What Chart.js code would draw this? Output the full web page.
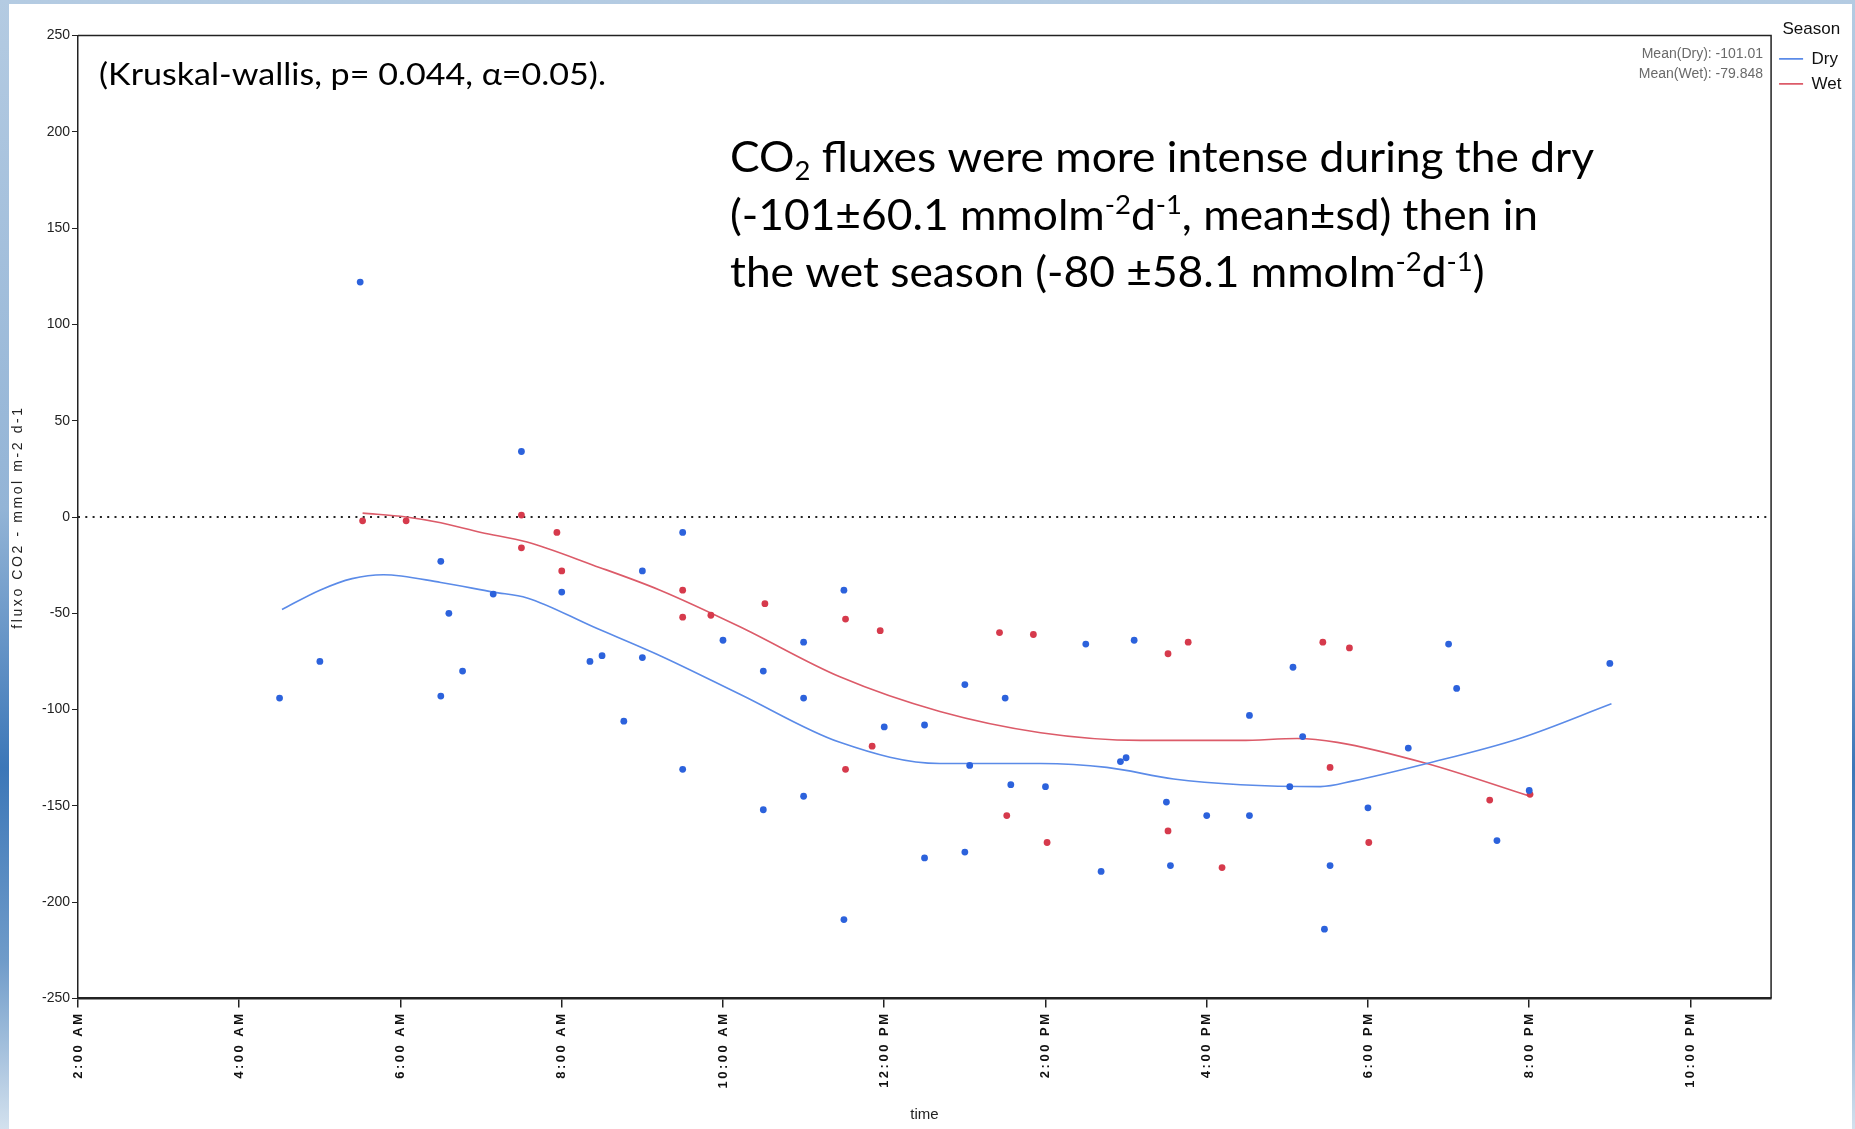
<!DOCTYPE html>
<html>
<head>
<meta charset="utf-8">
<script src="https://cdn.jsdelivr.net/npm/chart.js@4.4.1/dist/chart.umd.min.js"></script>
<style>
  html, body { margin: 0; padding: 0; width: 1855px; height: 1129px; overflow: hidden; }
  body { position: relative; background: linear-gradient(180deg, #b4cbe2 0%, #93b4d6 45%, #3c77b8 68%, #6f9bc9 85%, #d3e1ee 100%); }
  #sheet { position: absolute; left: 9px; top: 4px; right: 3px; bottom: 0; background: #fff; }
  #chart { position: absolute; left: 0; top: 0; }
</style>
</head>
<body>
<div id="sheet"></div>
<canvas id="chart" width="1855" height="1129"></canvas>
<script>
// sampling time (hours of day) and CO2 flux, one pair per sample
const dryHours = [4.5, 5.0, 5.5, 6.5, 6.6, 6.5, 6.77, 7.15, 7.5, 8.0, 8.35, 8.5, 8.77, 9.0, 9.0, 9.5, 9.5,
  10.0, 10.5, 10.5, 11.0, 11.0, 11.0, 11.5, 11.5, 12.0, 12.5, 12.5, 13.0, 13.0, 13.06, 13.5, 13.57,
  14.0, 14.5, 14.69, 14.93, 15.0, 15.1, 15.5, 15.55, 16.0, 16.53, 16.53, 17.03, 17.07, 17.19, 17.46,
  17.53, 18.0, 18.5, 19.0, 19.1, 19.6, 20.0, 21.0];
const dryValues = [-94, -75, 122, -23, -50, -93, -80, -40, 34, -39, -75, -72, -106, -28, -73, -8, -131,
  -64, -80, -152, -65, -94, -145, -38, -209, -109, -108, -177, -87, -174, -129, -94, -139,
  -140, -66, -184, -127, -125, -64, -148, -181, -155, -103, -155, -140, -78, -114, -214,
  -181, -151, -120, -66, -89, -168, -142, -76];

const wetHours = [5.53, 6.07, 7.5, 7.5, 7.94, 8.0, 9.5, 9.5, 9.85, 10.52, 11.52, 11.52, 11.85, 11.95,
  13.43, 13.52, 13.85, 14.02, 15.52, 15.52, 15.77, 16.19, 17.44, 17.53, 17.77, 18.01, 19.51, 20.01];
const wetValues = [-2, -2, 1, -16, -8, -28, -38, -52, -51, -45, -53, -131, -119, -59,
  -60, -155, -61, -169, -71, -163, -65, -182, -65, -130, -68, -169, -147, -144];

// smoothed trend lines
const dryTrendHours = [4.53, 5.0, 5.4, 5.79, 6.5, 7.15, 7.57, 8.39, 9.22, 10.21, 11.45, 12.69, 13.94,
  14.76, 15.59, 16.42, 17.41, 17.82, 18.73, 19.88, 21.02];
const dryTrendValues = [-48, -38, -32, -30, -34, -39, -42, -57, -72, -92, -117, -128, -128,
  -130, -136, -139, -140, -137, -128, -115, -97];
const wetTrendHours = [5.53, 6.07, 6.5, 7.0, 7.57, 8.39, 9.22, 10.21, 11.45, 12.69, 13.94, 15.18,
  16.42, 17.12, 17.62, 18.73, 20.01];
const wetTrendValues = [2, 0, -3, -8, -13, -25, -38, -57, -83, -101, -112, -116,
  -116, -115, -117, -128, -145];

const zeroHours = [2, 23];
const zeroValues = [0, 0];

const xTickHours = [2, 4, 6, 8, 10, 12, 14, 16, 18, 20, 22];
const xTickLabels = ['2:00 AM', '4:00 AM', '6:00 AM', '8:00 AM', '10:00 AM', '12:00 PM',
  '2:00 PM', '4:00 PM', '6:00 PM', '8:00 PM', '10:00 PM'];

const meanLines = ['Mean(Dry): -101.01', 'Mean(Wet): -79.848'];
const statLine = [['(Kruskal-wallis, p= 0.044, \u03b1=0.05).']];
const noteLines = [
  [['CO'], ['2', 'sub'], [' fluxes were more intense during the dry']],
  [['(-101\u00b160.1 mmolm'], ['-2', 'sup'], ['d'], ['-1', 'sup'], [', mean\u00b1sd) then in']],
  [['the wet season (-80 \u00b158.1 mmolm'], ['-2', 'sup'], ['d'], ['-1', 'sup'], [')']]
];

const dryPoint = '#2c62dc';
const wetPoint = '#d63a4c';
const dryLine = '#5b8be8';
const wetLine = '#dc5b69';
const narrow = '"Liberation Sans Narrow", "Arial Narrow", "Liberation Sans", sans-serif';
const noteFont = 'Lato, "Open Sans", sans-serif';

function pts(xs, ys) {
  return xs.map((x, i) => ({ x: x, y: ys[i] }));
}

function drawRich(ctx, segs, x, y, size, sx) {
  ctx.save();
  ctx.translate(x, y);
  ctx.scale(sx, 1);
  let cx = 0;
  segs.forEach(([t, kind]) => {
    const s = kind ? size * 0.62 : size;
    ctx.font = s + 'px ' + noteFont;
    const dy = kind === 'sub' ? size * 0.2 : kind === 'sup' ? -size * 0.36 : 0;
    ctx.fillText(t, cx, dy);
    cx += ctx.measureText(t).width;
  });
  ctx.restore();
}

function richWidth(ctx, segs, size) {
  let w = 0;
  segs.forEach(([t, kind]) => {
    ctx.font = (kind ? size * 0.62 : size) + 'px ' + noteFont;
    w += ctx.measureText(t).width;
  });
  return w;
}

// wider letter spacing on the x tick labels and the y title, like the original plot
const spacedText = {
  id: 'spacedText',
  afterLayout(chart) {
    const x = chart.scales.x, y = chart.scales.y;
    if (!x._spaced) {
      const orig = x.drawLabels;
      x.drawLabels = function (area) {
        this.ctx.save();
        this.ctx.letterSpacing = '2.5px';
        orig.call(this, area);
        this.ctx.restore();
      };
      x._spaced = true;
    }
    if (!y._spaced) {
      const origT = y.drawTitle;
      y.drawTitle = function () {
        this.ctx.save();
        this.ctx.letterSpacing = '2.6px';
        origT.call(this);
        this.ctx.restore();
      };
      y._spaced = true;
    }
  }
};

const frameAndNotes = {
  id: 'frameAndNotes',
  beforeDatasetsDraw(chart) {
    const { ctx, chartArea: a } = chart;
    ctx.save();
    ctx.strokeStyle = '#222';
    ctx.lineWidth = 1.5;
    ctx.beginPath();
    ctx.moveTo(a.left, a.top);
    ctx.lineTo(a.right, a.top);
    ctx.lineTo(a.right, a.bottom);
    ctx.stroke();
    ctx.restore();
  },
  afterDraw(chart) {
    const { ctx, chartArea: a } = chart;
    ctx.save();
    // means, top right corner
    ctx.fillStyle = '#6a6a6a';
    ctx.textAlign = 'right';
    ctx.textBaseline = 'middle';
    ctx.font = '14px ' + narrow;
    ctx.fillText(meanLines[0], a.right - 8, a.top + 19);
    ctx.fillText(meanLines[1], a.right - 8, a.top + 39);

    ctx.fillStyle = '#000';
    ctx.textAlign = 'left';
    ctx.textBaseline = 'alphabetic';
    drawRich(ctx, statLine, a.left + 21, a.top + 49, 31, 507 / richWidth(ctx, statLine, 31));

    const size = 43;
    const sx = 864 / richWidth(ctx, noteLines[0], size);
    drawRich(ctx, noteLines[0], a.left + 652, a.top + 136, size, sx);
    drawRich(ctx, noteLines[1], a.left + 652, a.top + 194, size, sx);
    drawRich(ctx, noteLines[2], a.left + 652, a.top + 251, size, sx);
    ctx.restore();
  }
};

new Chart(document.getElementById('chart'), {
  type: 'scatter',
  data: {
    datasets: [
      {
        type: 'line', label: 'Dry', data: pts(dryTrendHours, dryTrendValues),
        borderColor: dryLine, backgroundColor: dryLine, borderWidth: 1.6,
        pointRadius: 0, cubicInterpolationMode: 'monotone', fill: false, order: 2
      },
      {
        type: 'line', label: 'Wet', data: pts(wetTrendHours, wetTrendValues),
        borderColor: wetLine, backgroundColor: wetLine, borderWidth: 1.6,
        pointRadius: 0, cubicInterpolationMode: 'monotone', fill: false, order: 2
      },
      {
        label: 'dry samples', data: pts(dryHours, dryValues),
        backgroundColor: dryPoint, borderWidth: 0, pointRadius: 3.4, order: 1
      },
      {
        label: 'wet samples', data: pts(wetHours, wetValues),
        backgroundColor: wetPoint, borderWidth: 0, pointRadius: 3.4, order: 1
      },
      {
        type: 'line', label: 'zero', data: pts(zeroHours, zeroValues),
        borderColor: '#222', borderWidth: 2, borderDash: [2, 5.3],
        pointRadius: 0, fill: false, order: 3
      }
    ]
  },
  options: {
    responsive: false,
    animation: false,
    devicePixelRatio: 1,
    layout: { padding: { left: 0, top: 18, right: 3.5, bottom: 0 } },
    plugins: {
      title: { display: true, text: ' ', font: { size: 10, lineHeight: 1 }, padding: { top: 7.5, bottom: 0 } },
      tooltip: { enabled: false },
      legend: {
        position: 'right',
        align: 'start',
        title: {
          display: true, text: 'Season', color: '#111',
          font: { family: narrow, size: 17 }, padding: { top: 3, bottom: 1 }
        },
        labels: {
          usePointStyle: true, pointStyle: 'line', pointStyleWidth: 24,
          color: '#111', font: { family: narrow, size: 17 }, padding: 8,
          filter: item => item.text === 'Dry' || item.text === 'Wet'
        }
      }
    },
    scales: {
      x: {
        type: 'linear', min: 2, max: 23,
        afterBuildTicks: s => { s.ticks = xTickHours.map(v => ({ value: v })); },
        afterFit: s => { s.height = 130.5; },
        ticks: {
          autoSkip: false, minRotation: 90, maxRotation: 90, padding: 4, color: '#111',
          font: { family: '"Liberation Sans", Arial, sans-serif', size: 13, weight: 'bold' },
          callback: (v, i) => xTickLabels[i]
        },
        grid: { drawOnChartArea: false, drawTicks: true, tickLength: 9, color: '#222', lineWidth: 1.5 },
        border: { color: '#222', width: 2.5 },
        title: {
          display: true, text: 'time', color: '#222',
          font: { family: narrow, size: 15 }, padding: { top: 0, bottom: 5 }
        }
      },
      y: {
        min: -250, max: 250,
        afterFit: s => { s.width = 78; },
        ticks: { stepSize: 50, padding: 2, color: '#222', font: { family: narrow, size: 14 } },
        grid: { drawOnChartArea: false, drawTicks: true, tickLength: 6, color: '#222' },
        border: { color: '#222', width: 1.5 },
        title: {
          display: true, text: 'fluxo CO2 - mmol m-2 d-1', color: '#222',
          font: { family: '"Liberation Sans", Arial, sans-serif', size: 14 }, padding: { top: 10, bottom: 0 }
        }
      }
    }
  },
  plugins: [spacedText, frameAndNotes]
});
</script>
</body>
</html>
